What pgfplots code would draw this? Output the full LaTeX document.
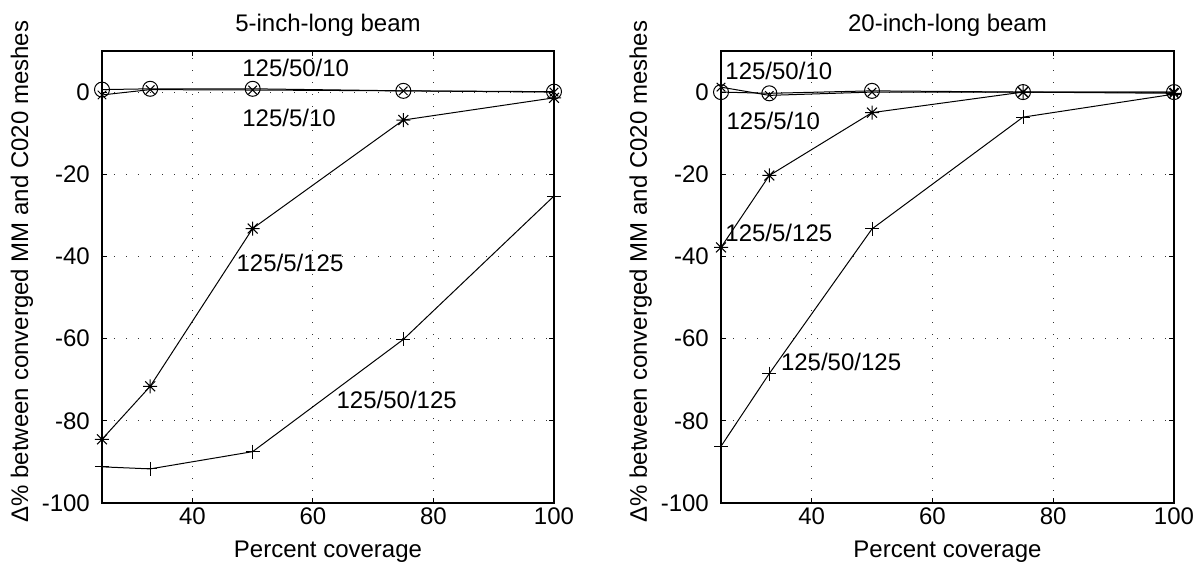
\documentclass[border=0pt]{standalone}
\usepackage{pgfplots}
\pgfplotsset{compat=1.18}
\usepackage{fontspec}
\setmainfont{Liberation Sans}

\pgfdeclareplotmark{mstar}{%
 \pgfpathmoveto{\pgfqpoint{-\pgfplotmarksize}{0pt}}\pgfpathlineto{\pgfqpoint{\pgfplotmarksize}{0pt}}%
 \pgfpathmoveto{\pgfqpoint{0pt}{-\pgfplotmarksize}}\pgfpathlineto{\pgfqpoint{0pt}{\pgfplotmarksize}}%
 \pgfpathmoveto{\pgfqpoint{-.7071\pgfplotmarksize}{-.7071\pgfplotmarksize}}\pgfpathlineto{\pgfqpoint{.7071\pgfplotmarksize}{.7071\pgfplotmarksize}}%
 \pgfpathmoveto{\pgfqpoint{-.7071\pgfplotmarksize}{.7071\pgfplotmarksize}}\pgfpathlineto{\pgfqpoint{.7071\pgfplotmarksize}{-.7071\pgfplotmarksize}}%
 \pgfusepathqstroke}

\tikzset{lbl/.style={anchor=west, inner sep=0pt, font=\fontsize{24}{28}\selectfont}}

\pgfplotsset{
 mystyle/.style={
  scale only axis, height=452pt,
  xmin=25, xmax=100, ymin=-100, ymax=10,
  xtick={40,60,80,100}, xticklabels={40,60,80,100},
  ytick={-100,-80,-60,-40,-20,0}, yticklabels={-100,-80,-60,-40,-20,0},
  grid=major,
  major grid style={black!80, line width=1pt, dash pattern=on 1pt off 11pt},
  tick align=inside, tick pos=both, major tick length=5pt,
  tick style={black, line width=1pt},
  axis line style={black, line width=1.4pt},
  every tick label/.append style={font=\fontsize{24}{28}\selectfont, inner sep=0pt},
  xticklabel style={yshift=-5pt},
  yticklabel style={xshift=-12pt},
  every axis x label/.style={at={(axis description cs:0.5,0)}, anchor=base, yshift=-55pt, font=\fontsize{24}{28}\selectfont, inner sep=0pt},
  every axis title/.style={at={(axis description cs:0.5,1)}, anchor=base, yshift=19pt, font=\fontsize{24}{28}\selectfont, inner sep=0pt},
  xlabel={Percent coverage},
  ylabel={Δ\% between converged MM and C020 meshes},
  clip=false,
  every axis plot/.append style={black, line width=1pt, mark options={solid, line width=1pt}},
 }
}

\begin{document}
\begin{tikzpicture}
\path[use as bounding box] (-102pt,-61pt) rectangle (1091pt,503pt);

\begin{axis}[mystyle, width=452pt, at={(0pt,0pt)}, anchor=south west,
  title={5-inch-long beam},
  every axis y label/.style={at={(axis description cs:-0.1637,0.512)}, rotate=90, anchor=base, font=\fontsize{24}{28}\selectfont, inner sep=0pt}]
\addplot[mark=o, mark size=7.5pt] coordinates {(25,0.6) (33,0.8) (50,0.8) (75,0.3) (100,0.1)};
\addplot[mark=x, mark size=6pt] coordinates {(25,-0.7) (33,0.6) (50,0.5) (75,0.3) (100,0)};
\addplot[mark=mstar, mark size=7pt] coordinates {(25,-84.5) (33,-71.6) (50,-33.2) (75,-6.8) (100,-1.4)};
\addplot[mark=+, mark size=7pt] coordinates {(25,-91.2) (33,-91.7) (50,-87.5) (75,-60.2) (100,-25.3)};
\node[lbl] at (axis cs:48.25,6.0) {125/50/10};
\node[lbl] at (axis cs:48.25,-6.2) {125/5/10};
\node[lbl] at (axis cs:47.3,-41.6) {125/5/125};
\node[lbl] at (axis cs:63.9,-75.0) {125/50/125};
\end{axis}

\begin{axis}[mystyle, width=453pt, at={(619pt,0pt)}, anchor=south west,
  title={20-inch-long beam},
  every axis y label/.style={at={(axis description cs:-0.1634,0.512)}, rotate=90, anchor=base, font=\fontsize{24}{28}\selectfont, inner sep=0pt}]
\addplot[mark=o, mark size=7.5pt] coordinates {(25,0) (33,-0.3) (50,0.3) (75,0) (100,0)};
\addplot[mark=x, mark size=6pt] coordinates {(25,1.2) (33,-0.8) (50,0) (75,0) (100,0)};
\addplot[mark=mstar, mark size=7pt] coordinates {(25,-37.8) (33,-20.3) (50,-5) (75,0) (100,-0.3)};
\addplot[mark=+, mark size=7pt] coordinates {(25,-86.2) (33,-68.5) (50,-33.3) (75,-6.1) (100,-0.5)};
\node[lbl] at (axis cs:25.7,5.1) {125/50/10};
\node[lbl] at (axis cs:25.9,-7.0) {125/5/10};
\node[lbl] at (axis cs:25.7,-34.3) {125/5/125};
\node[lbl] at (axis cs:34.9,-65.7) {125/50/125};
\end{axis}
\end{tikzpicture}
\end{document}
